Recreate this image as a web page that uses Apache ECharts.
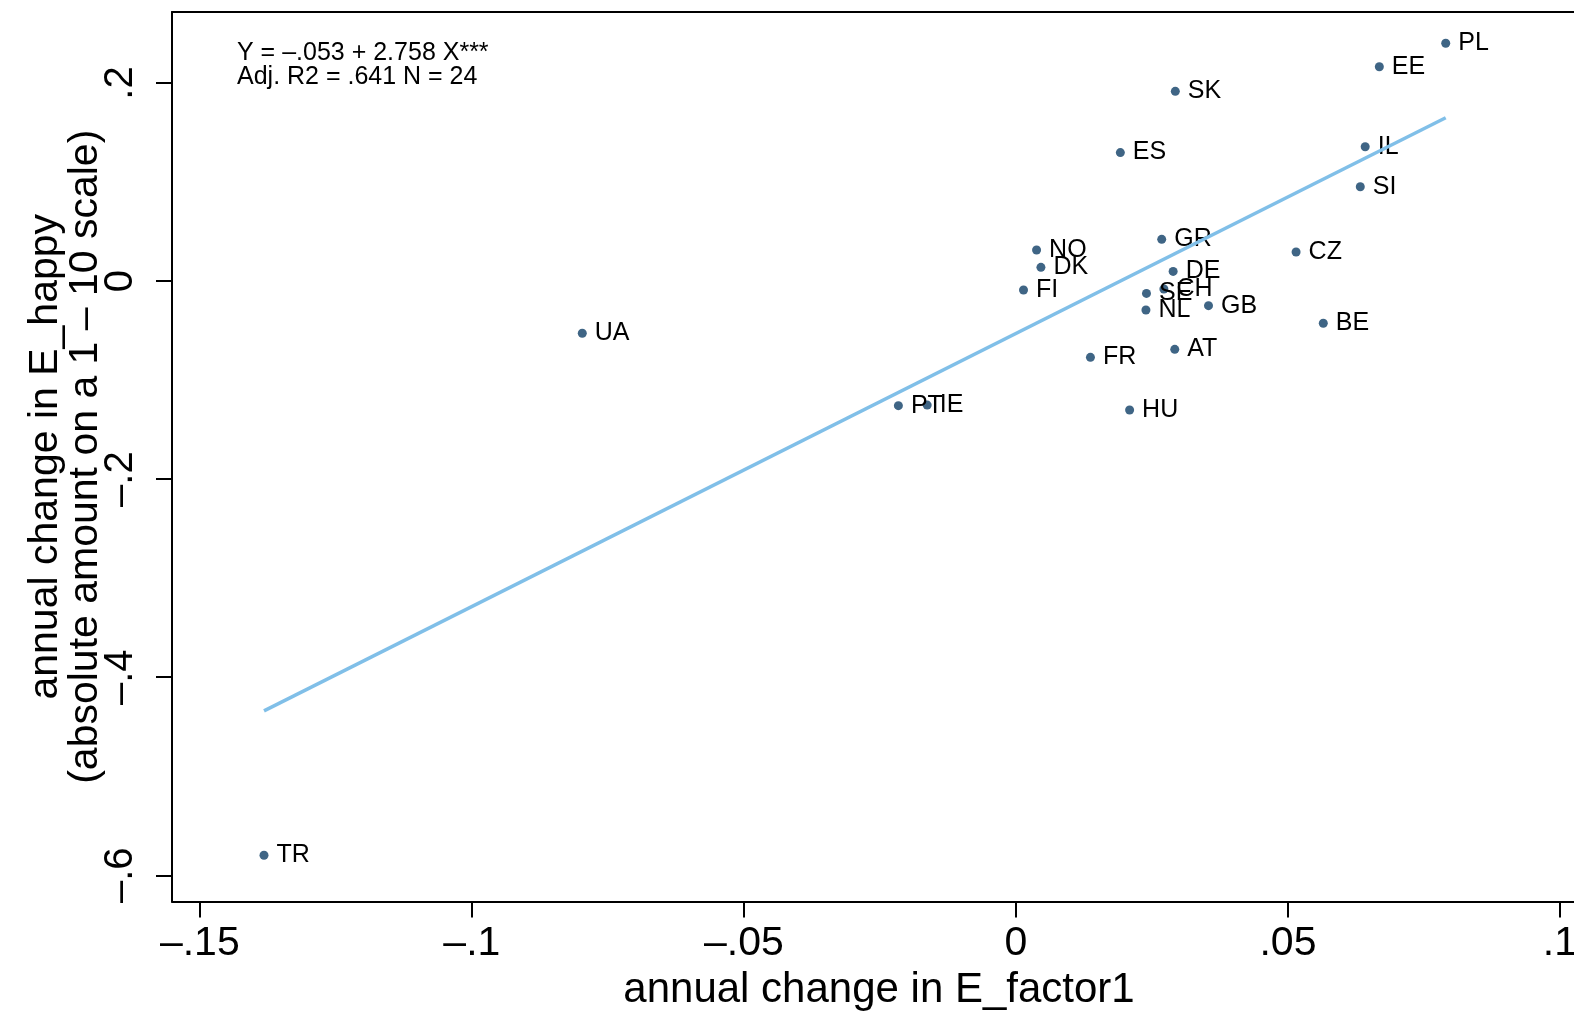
<!DOCTYPE html>
<html>
<head>
<meta charset="utf-8">
<script src="https://cdn.jsdelivr.net/npm/echarts@6/dist/echarts.min.js"></script>
<style>
html,body{margin:0;padding:0;background:#fff;}
#chart{width:1574px;height:1012px;}
</style>
</head>
<body>
<div id="chart"></div>
<script>
const countries = ['PL','EE','SK','ES','IL','SI','CZ','BE','GR','NO','DK','DE','FI','SE','CH','NL','GB','AT','FR','HU','UA','PT','IE','TR'];
const factorChange = [0.0790,0.0668,0.0293,0.0192,0.0642,0.0633,0.0515,0.0565,0.0268,0.0038,0.0046,0.0289,0.0014,0.0240,0.0272,0.0239,0.0354,0.0292,0.0137,0.0209,-0.0797,-0.0216,-0.0163,-0.1382];
const happyChange = [0.2402,0.2165,0.1916,0.1298,0.1357,0.0953,0.0294,-0.0426,0.0422,0.0314,0.0139,0.0098,-0.0090,-0.0124,-0.0080,-0.0292,-0.0248,-0.0689,-0.0770,-0.1302,-0.0527,-0.1258,-0.1252,-0.5798];
const fitX = [-0.1382, 0.0790];
const fitY = [-0.434, 0.165];
const xTicks = [-0.15,-0.1,-0.05,0,0.05,0.1];
const xTickLabels = ['\u2013.15','\u2013.1','\u2013.05','0','.05','.1'];
const yTicks = [-0.6,-0.4,-0.2,0,0.2];
const yTickLabels = ['\u2013.6','\u2013.4','\u2013.2','0','.2'];
const statLines = ['Y = \u2013.053 + 2.758 X***','Adj. R2 = .641 N = 24'];

const FONT = '"Liberation Sans", Arial, Helvetica, sans-serif';
function lab(ticks, labels){
  return v => { for (let i=0;i<ticks.length;i++){ if (Math.abs(ticks[i]-v)<1e-9) return labels[i]; } return ''; };
}
const chart = echarts.init(document.getElementById('chart'), null, {renderer:'canvas'});
chart.setOption({
  animation:false,
  backgroundColor:'#fff',
  grid:{left:172, top:12, bottom:110.5, right:0, show:false, containLabel:false, outerBoundsMode:'none'},
  xAxis:[{
    type:'value', min:-0.15511, max:0.10258,
    splitLine:{show:false},
    axisLine:{show:true, onZero:false, lineStyle:{color:'#000', width:2}},
    axisTick:{show:true, customValues:xTicks, length:16, lineStyle:{color:'#000', width:2}},
    axisLabel:{customValues:xTicks, formatter:lab(xTicks,xTickLabels), color:'#000', fontSize:41, fontFamily:FONT, margin:22, showMaxLabel:true},
    name:'annual change in E_factor1', nameLocation:'middle', nameGap:68, nameMoveOverlap:false,
    nameTextStyle:{color:'#000', fontSize:42, fontFamily:FONT, padding:[0,0,0,12]}
  },{
    type:'value', position:'top', min:-0.15511, max:0.10258,
    splitLine:{show:false},
    axisLine:{show:true, onZero:false, lineStyle:{color:'#000', width:2}},
    axisTick:{show:false}, axisLabel:{show:false}
  }],
  yAxis:{
    type:'value', min:-0.62648, max:0.27174,
    splitLine:{show:false},
    axisLine:{show:true, onZero:false, lineStyle:{color:'#000', width:2}},
    axisTick:{show:true, customValues:yTicks, length:16, lineStyle:{color:'#000', width:2}},
    axisLabel:{customValues:yTicks, formatter:lab(yTicks,yTickLabels), rotate:90, color:'#000', fontSize:40, fontFamily:FONT, margin:31},
    name:'annual change in E_happy\n(absolute amount on a 1 \u2013 10 scale)', nameLocation:'middle', nameGap:66, nameMoveOverlap:false,
    nameTextStyle:{color:'#000', fontSize:41, fontFamily:FONT, lineHeight:40}
  },
  graphic:[{
    type:'text', left:237, top:41,
    style:{text:statLines.join('\n'), fontSize:25, lineHeight:24, fontFamily:FONT, fill:'#000'}
  }],
  series:[
    {
      type:'line', data:fitX.map((x,i)=>[x,fitY[i]]), symbol:'none', z:3,
      lineStyle:{color:'#80bfe8', width:3.5}
    },
    {
      type:'scatter', data:factorChange.map((x,i)=>[x,happyChange[i],countries[i]]), symbolSize:9, z:2,
      itemStyle:{color:'#3f6585', opacity:1},
      label:{show:true, position:'right', distance:8, formatter:p=>p.value[2], color:'#000', fontSize:25, fontFamily:FONT}
    }
  ]
});
</script>
</body>
</html>
